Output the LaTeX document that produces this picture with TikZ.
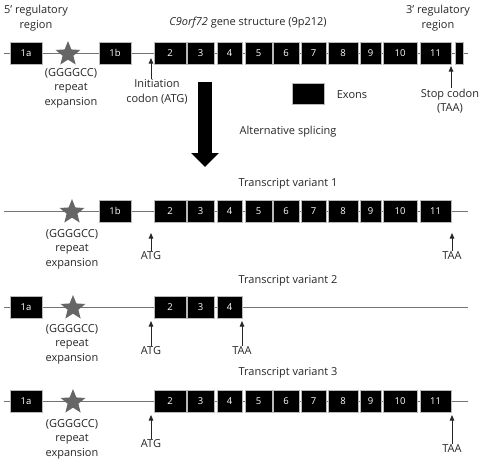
\documentclass[tikz,border=0pt]{standalone}
\usepackage{fontspec}
\setmainfont{Open Sans}
\usetikzlibrary{shapes.geometric}
\usetikzlibrary{arrows.meta}

\newcommand\exonsall{2/154/186,3/187/214,4/217/242,5/245/272,6/273/299,7/301/326,8/328/358,9/360/381,10/383/417,11/420/451}
\newcommand\exonsshort{2/154/186,3/187/214,4/217/242}
\newcommand\exonrow[3]{%
  \foreach \n/\a/\b in #3 {%
    \pgfmathsetmacro\xc{(\a+\b)/2}%
    \pgfmathsetmacro\xw{\b-\a}%
    \node[exon, minimum width=\xw pt] (#1x\n) at (\xc,#2) {\n};
  }}

\tikzset{
  exon/.style={fill=black, draw=gray!55, line width=0.3pt, text=white,
    font=\fontsize{9.5}{10}\selectfont, minimum height=22pt, inner sep=0pt},
  backbone/.style={draw=black!55, line width=0.9pt},
  repeatstar/.style={star, star points=5, star point ratio=2.3, fill=black!60,
    minimum size=26pt, inner sep=0pt},
  lbl/.style={font=\fontsize{11}{14.5}\selectfont, text=black!85, align=center, inner sep=1pt},
  site/.style={-{Triangle[length=5.5pt,width=4.5pt]}, line width=0.8pt, black!85},
}

\begin{document}
\begin{tikzpicture}[x=1pt,y=-1pt]
  \useasboundingbox (0,0) rectangle (481,461);

  % gene structure
  \coordinate (g0s) at (4,53);
  \coordinate (g0e) at (468,53);
  \draw[backbone] (g0s) -- (g0e);
  \node[exon, minimum width=32pt] (g0x1a) at (26,53) {1a};
  \node[repeatstar] (g0rep) at (68,54) {};
  \node[exon, minimum width=32pt] (g0x1b) at (115,53) {1b};
  \exonrow{g0}{53}{\exonsall}
  \node[exon, minimum width=8pt] (g0utr) at (459,53) {};
  \node[lbl] at (36,18) {5' regulatory\\region};
  \node[lbl] at (248,23) {\textit{C9orf72} gene structure (9p212)};
  \node[lbl] at (438,18) {3' regulatory\\region};
  \node[lbl] (g0exp) at (71,88) {(GGGGCC)\\repeat\\expansion};
  \coordinate (g0atg) at (151,58);
  \node[lbl] (g0init) at (157,92) {Initiation\\codon (ATG)};
  \draw[site] (g0init.north -| g0atg) -- (g0atg);
  \coordinate (g0taa) at (451,66);
  \node[lbl] (g0stop) at (450,101) {Stop codon\\(TAA)};
  \draw[site] (g0stop.north -| g0taa) -- (g0taa);
  \node[exon, minimum width=32pt, minimum height=21pt] (key) at (308,93.5) {};
  \node[lbl] (keytxt) at (352,95) {Exons};

  % splicing
  \coordinate (splitTop) at (205,82);
  \coordinate (splitTip) at (205,167);
  \draw[line width=14pt, -{Triangle[length=14pt,width=27pt]}] (splitTop) -- (splitTip);
  \node[lbl] (splice) at (288,132) {Alternative splicing};

  % variant 1
  \node[lbl] (v1title) at (288,184) {Transcript variant 1};
  \coordinate (v1s) at (4,211);
  \coordinate (v1e) at (468,211);
  \draw[backbone] (v1s) -- (v1e);
  \node[repeatstar] (v1rep) at (72,212) {};
  \node[exon, minimum width=32pt] (v1x1b) at (115,211) {1b};
  \exonrow{v1}{211}{\exonsall}
  \node[lbl] (v1exp) at (72,249) {(GGGGCC)\\repeat\\expansion};
  \coordinate (v1atg) at (151,233);
  \node[lbl] (v1start) at (151,256) {ATG};
  \draw[site] (v1start.north) -- (v1atg);
  \coordinate (v1taa) at (452,233);
  \node[lbl] (v1stop) at (452,256) {TAA};
  \draw[site] (v1stop.north) -- (v1taa);

  % variant 2
  \node[lbl] (v2title) at (288,281) {Transcript variant 2};
  \coordinate (v2s) at (4,307);
  \coordinate (v2e) at (468,307);
  \draw[backbone] (v2s) -- (v2e);
  \node[exon, minimum width=32pt] (v2x1a) at (26,307) {1a};
  \node[repeatstar] (v2rep) at (73,308) {};
  \exonrow{v2}{307}{\exonsshort}
  \node[lbl] (v2exp) at (72,344) {(GGGGCC)\\repeat\\expansion};
  \coordinate (v2atg) at (151,321);
  \node[lbl] (v2start) at (151,351) {ATG};
  \draw[site] (v2start.north) -- (v2atg);
  \coordinate (v2taa) at (242,321);
  \node[lbl] (v2stop) at (242,351) {TAA};
  \draw[site] (v2stop.north) -- (v2taa);

  % variant 3
  \node[lbl] (v3title) at (288,373) {Transcript variant 3};
  \coordinate (v3s) at (4,401);
  \coordinate (v3e) at (468,401);
  \draw[backbone] (v3s) -- (v3e);
  \node[exon, minimum width=32pt] (v3x1a) at (26,401) {1a};
  \node[repeatstar] (v3rep) at (73,402) {};
  \exonrow{v3}{401}{\exonsall}
  \node[lbl] (v3exp) at (72,439) {(GGGGCC)\\repeat\\expansion};
  \coordinate (v3atg) at (151,415);
  \node[lbl] (v3start) at (151,444) {ATG};
  \draw[site] (v3start.north) -- (v3atg);
  \coordinate (v3taa) at (452,415);
  \node[lbl] (v3stop) at (452,449) {TAA};
  \draw[site] (v3stop.north) -- (v3taa);
\end{tikzpicture}
\end{document}
